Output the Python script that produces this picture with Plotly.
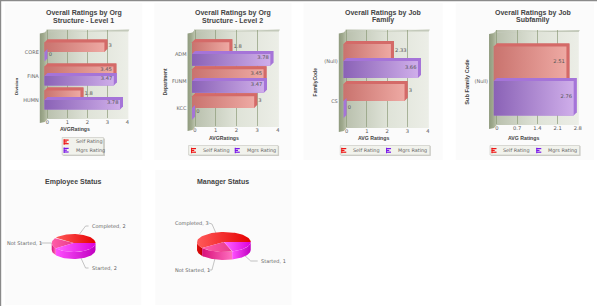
import numpy as np
import plotly.graph_objects as go

# ---------- data ----------
titles = ["Overall Ratings by Org<br>Structure - Level 1", "Overall Ratings by Org<br>Structure - Level 2",
          "Overall Ratings by Job<br>Family", "Overall Ratings by Job<br>Subfamily"]
cats_1 = ["CORE", "FINA", "HUMN"]
self_1 = [3, 3.45, 1.8]
mgr_1 = [0, 3.47, 3.78]
cats_2 = ["ADM", "FUNM", "KCC"]
self_2 = [1.8, 3.45, 3]
mgr_2 = [3.78, 3.47, 0]
cats_3 = ["(Null)", "CS"]
self_3 = [2.33, 3]
mgr_3 = [3.66, 0]
cats_4 = ["(Null)"]
self_4 = [2.51]
mgr_4 = [2.76]
ticks_std = [0, 1, 2, 3, 4]
ticks_4 = [0, 0.7, 1.4, 2.1, 2.8]
ytitles = ["Division", "Department", "FamilyCode", "Sub Family Code"]
xtitles = ["AVGRatings", "AVGRatings", "AVG Ratings", "AVG Ratings"]
series_names = ["Self Rating", "Mgrs Rating"]
pie_labels = ["Completed", "Not Started", "Started"]
pie_emp = [2, 1, 2]
pie_mgr = [3, 1, 1]

FONT = "DejaVu Sans"
TFONT = "Liberation Sans"
W, H = 600, 306
fig = go.Figure()
shapes, annots = [], []
layout_axes = {}


def fx(x): return x / W
def fy(y): return 1 - y / H


def rect(x0, y0, x1, y1, fill, line=None, lw=0):
    shapes.append(dict(type="rect", xref="paper", yref="paper", x0=fx(x0), x1=fx(x1), y0=fy(y0), y1=fy(y1),
                       fillcolor=fill, line=dict(color=line or fill, width=lw), layer="below"))


def label(x, y, s, size=5.0, color="#666", bold=False, anchor="left", angle=0, family=FONT):
    annots.append(dict(xref="paper", yref="paper", x=fx(x), y=fy(y), text=f"<b>{s}</b>" if bold else s,
                       showarrow=False, xanchor=anchor, yanchor="middle", textangle=angle,
                       font=dict(family=family, size=size, color=color)))


def grad_poly(xs, ys, stops, xa, ya, kind="horizontal"):
    n = len(stops) - 1
    fig.add_trace(go.Scatter(x=xs, y=ys, xaxis=xa, yaxis=ya, mode="lines", line=dict(width=0), fill="toself",
                             fillgradient=dict(type=kind, colorscale=[[i / n, c] for i, c in enumerate(stops)]),
                             hoverinfo="skip", showlegend=False))


def solid_poly(xs, ys, color, xa, ya):
    fig.add_trace(go.Scatter(x=xs, y=ys, xaxis=xa, yaxis=ya, mode="lines", line=dict(width=0), fill="toself",
                             fillcolor=color, hoverinfo="skip", showlegend=False))


# page furniture
rect(0, 0, 600, 1.2, "#8a8a8a")
rect(0, 0, 1.2, 306, "#8a8a8a")
for p in [(5, 3, 143, 160), (155, 3, 293, 160), (305, 3, 445, 160), (458, 3, 597, 160), (5, 170, 142, 305), (156, 170, 293, 305)]:
    rect(*p, "#fbfbfb")

layout_axes["xaxis"] = dict(domain=[0, 1], range=[0, W], visible=False, fixedrange=True)
layout_axes["yaxis"] = dict(domain=[0, 1], range=[H, 0], visible=False, fixedrange=True)

charts = [
    dict(c=cats_1, s=self_1, m=mgr_1, t=ticks_std, x0=47.7, xm=128, yT=29.5, yB=119, r0=52, rs=24, h=9.5, xL=40, tc=84, ytx=16, yty=86, xtx=75, xty=129),
    dict(c=cats_2, s=self_2, m=mgr_2, t=ticks_std, x0=196, xm=279.3, yT=29.5, yB=127, r0=54, rs=27, h=11.7, xL=188.5, tc=234, ytx=167, yty=82, xtx=225, xty=138),
    dict(c=cats_3, s=self_3, m=mgr_3, t=ticks_std, x0=348.3, xm=430, yT=29.5, yB=128, r0=61, rs=40, h=17, xL=340.5, tc=385, ytx=317, yty=82, xtx=375, xty=137.5),
    dict(c=cats_4, s=self_4, m=mgr_4, t=ticks_4, x0=499.3, xm=580.7, yT=30, yB=125, r0=81, rs=40, h=34.5, xL=491.5, tc=536, ytx=469, yty=82, xtx=526, xty=137.5),
]
RED = ["#c9736e", "#eea9a3"]
PUR = ["#8a62b6", "#cfaeea"]
REDSIDE, PURSIDE = "#d46a68", "#a574d8"
D = 3.0

for k, ch in enumerate(charts):
    xa, ya = f"x{k + 2}", f"y{k + 2}"
    xL, x0, xm, yT, yB = ch["xL"], ch["x0"], ch["xm"], ch["yT"], ch["yB"]
    xR = xm + 1
    yA = yB - 1.5  # axis domain ends a little above the wall foot so tick labels sit tight under it
    grad_poly([x0 - 1, xR, xR, x0 - 1, x0 - 1], [yT, yT, yB, yB, yT], ["#b9c0ad", "#dfe3d8", "#eceee7"], "x", "y")
    solid_poly([xL + 4, xR + 1, xR, x0 - 1], [yT + 3, yT, yT + 2, yT + 2], "#c3c9ba", "x", "y")
    grad_poly([xL, xL + 5, x0, x0, xL + 5, xL], [yT + 4, yT + 3, yT, yB, yB + 3, yB + 4], ["#8f9a7e", "#a0aa8e", "#bcc3ae"], "x", "y")

    ppx = (xm - x0) / ch["t"][-1]
    s = ch["rs"]
    dx, dy, hh = D / ppx, D / s, ch["h"] / s
    layout_axes[f"xaxis{k + 2}"] = dict(domain=[fx(xL), fx(xR)], range=[(xL - x0) / ppx, (xR - x0) / ppx], anchor=ya,
                                        tickvals=ch["t"], ticktext=[str(t) for t in ch["t"]], showgrid=True, gridcolor="rgba(135,150,115,0.65)",
                                        gridwidth=1, zeroline=False, showline=False, ticks="", ticklen=0,
                                        tickfont=dict(family=FONT, size=5.2, color="#555"), fixedrange=True)
    layout_axes[f"yaxis{k + 2}"] = dict(domain=[fy(yA), fy(yT)], range=[(yA - ch["r0"]) / s, (yT - ch["r0"]) / s], anchor=xa,
                                        tickvals=list(range(len(ch["c"]))), ticktext=ch["c"], showgrid=False, zeroline=False,
                                        showline=False, ticks="", tickfont=dict(family=FONT, size=5, color="#666"), fixedrange=True)
    for vals, off, colors, side, name in [(ch["s"], -1, RED, REDSIDE, series_names[0]), (ch["m"], 0, PUR, PURSIDE, series_names[1])]:
        rows = np.arange(len(vals))
        top = rows + off * hh
        fig.add_trace(go.Bar(orientation="h", y=top + hh / 2 - dy, x=vals, width=hh, marker=dict(color=side, line=dict(width=0)),
                             xaxis=xa, yaxis=ya, name=name, showlegend=False))
        txt_x, txt_y, txt, pos = [], [], [], []
        for r, v, t in zip(rows, vals, top):
            b = t + hh
            solid_poly([-dx, -dx, 0, v, v, v - dx, -dx], [b, t, t - dy, t - dy, b - dy, b, b], side, xa, ya)
            if v > 0:
                grad_poly([-dx, v - dx, v - dx, -dx, -dx], [t, t, b, b, t], colors, xa, ya)
            inside = v / ch["t"][-1] > 0.8
            txt_x.append(v - 1.5 * dx if inside else v + 0.4 * dx)
            txt_y.append(t + hh / 2 - dy * 0.6)
            txt.append(str(v))
            pos.append("middle left" if inside else "middle right")
        fig.add_trace(go.Scatter(x=txt_x, y=txt_y, text=txt, mode="text", textposition=pos, xaxis=xa, yaxis=ya, cliponaxis=False,
                                 textfont=dict(family=FONT, size=5.2, color="#555"), showlegend=False, hoverinfo="skip"))
    for j, line in enumerate(titles[k].split("<br>")):
        label(ch["tc"], 13.3 + j * 7.2, line, size=7, color="#444", bold=True, anchor="center", family=TFONT)
    label(ch["xtx"], ch["xty"], xtitles[k], size=5.2, color="#444", bold=True, anchor="center", family=TFONT)
    label(ch["ytx"], ch["yty"], ytitles[k], size=[4.4, 4.8, 5, 5.6][k], color="#444", bold=True, anchor="center", angle=-90, family=TFONT)


def legend_icon(x, y, color):
    for dy_, w in [(-2.2, 5), (-0.4, 3.2), (1.4, 5)]:
        rect(x, y + dy_, x + w, y + dy_ + 1.2, color)
    rect(x, y - 2.4, x + 1, y + 3, color)


RC, PC = "#ee1515", "#7a18e8"
rect(63.5, 138.5, 105.5, 156, "#cfcfca")
rect(62.5, 137.5, 104, 155, "#f1f2ec", "#c4c4be", 0.6)
legend_icon(64, 141.7, RC); label(74, 141.7, series_names[0], size=4.9)
legend_icon(64, 150, PC); label(74, 150, series_names[1], size=4.9)
for x0, x1, i1, t1, i2, t2 in [(189.5, 279.5, 192, 202, 236, 246), (342, 432, 343, 353, 388, 398), (492.5, 582.5, 494, 504, 539, 549)]:
    rect(x0 + 1, 146, x1 + 1, 156, "#cfcfca")
    rect(x0, 145.5, x1, 155, "#f1f2ec", "#c4c4be", 0.6)
    legend_icon(i1, 150.2, RC); label(t1, 150.2, series_names[0], size=4.9)
    legend_icon(i2, 150.2, PC); label(t2, 150.2, series_names[1], size=4.9)

# ---------- pies ----------
TOP = [["#ff5a5a", "#e60000"], ["#ff5ea8", "#e83a8c"], ["#ff66ff", "#dd00dd"]]
SIDE = [["#e01010", "#c00000"], ["#d8107a", "#ff70c0"], ["#ff50ff", "#c000c0"]]

pies = [
    dict(v=pie_emp, cx=74, cy=243, rx=22, ry=9, d=7, title="Employee Status",
         lab=[(90, 226, (80, 234), (86, 226), (89, 226)), (5, 243, (52, 243), (46, 243), (40, 243)), (90, 268, (80, 255), (86, 268), (89, 268))]),
    dict(v=pie_mgr, cx=225, cy=242, rx=27, ry=10, d=8, title="Manager Status",
         lab=[(174, 223, (217, 233), (213, 224), (210, 223)), (174, 270, (217, 255), (213, 270), (210, 270)), (260, 261, (242, 252), (252, 261), (259, 261))]),
]
for n, p in enumerate(pies):
    xa, ya = f"x{n + 6}", f"y{n + 6}"
    pad = 1.6
    ext_y = 1 + p["d"] / p["ry"] + 0.2
    layout_axes[f"xaxis{n + 6}"] = dict(domain=[fx(p["cx"] - p["rx"] * pad), fx(p["cx"] + p["rx"] * pad)], range=[-pad, pad], visible=False, fixedrange=True)
    layout_axes[f"yaxis{n + 6}"] = dict(domain=[fy(p["cy"] + p["ry"] * ext_y), fy(p["cy"] - p["ry"] * ext_y)], range=[-ext_y, ext_y], visible=False, fixedrange=True)
    fr = np.cumsum([0] + p["v"]) / sum(p["v"]) * 2 * np.pi
    dep = p["d"] / p["ry"]
    for i in range(3):
        a0, a1 = fr[i], fr[i + 1]
        lo, hi = max(a0, np.pi), a1
        if hi > lo:
            t = np.linspace(lo, hi, 40)
            xs = np.r_[np.cos(t), np.cos(t[::-1])]
            ys = np.r_[np.sin(t), np.sin(t[::-1]) - dep]
            grad_poly(xs, ys, SIDE[i], xa, ya)
    for i in range(3):
        t = np.linspace(fr[i], fr[i + 1], 60)
        xs = np.r_[0, np.cos(t), 0]
        ys = np.r_[0, np.sin(t), 0]
        grad_poly(xs, ys, TOP[i], xa, ya)
    label(p["cx"] - 0.5, 182, p["title"], size=7, color="#444", bold=True, anchor="center", family=TFONT)
    for i, (lx, ly, a, b, c) in enumerate(p["lab"]):
        fig.add_trace(go.Scatter(x=[a[0], b[0], c[0]], y=[a[1], b[1], c[1]], mode="lines", line=dict(color="#aaa", width=0.7),
                                 xaxis="x", yaxis="y", hoverinfo="skip", showlegend=False))
        label(lx, ly, f"{pie_labels[i]}, {p['v'][i]}", size=5)

fig.update_layout(width=W, height=H, margin=dict(l=0, r=0, t=0, b=0), paper_bgcolor="white", plot_bgcolor="rgba(0,0,0,0)",
                  barmode="overlay", showlegend=False, shapes=shapes, annotations=annots, **layout_axes)
fig.write_html("out.html", config={"displayModeBar": False}, post_script="document.body.style.margin='0';")
